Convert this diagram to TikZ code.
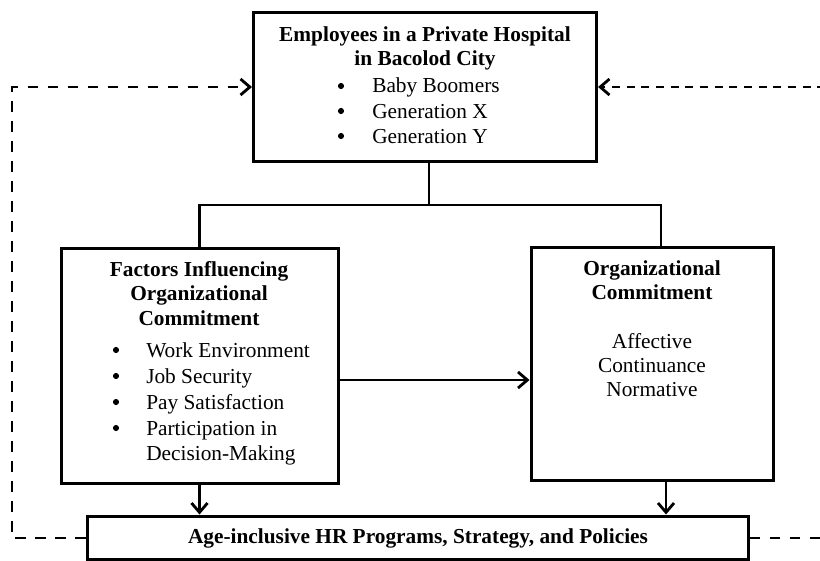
\documentclass[tikz,border=0pt]{standalone}
\usepackage{fontspec}
\setmainfont{Liberation Serif}
\usetikzlibrary{arrows.meta,calc}
\begin{document}
\begin{tikzpicture}[x=0.75pt,y=-0.75pt,
  box/.style={draw,line width=2.25pt,inner sep=0pt},
  txt/.style={inner sep=0pt,font=\fontsize{16}{19}\selectfont},
  head/.style={txt,anchor=base,font=\fontsize{16}{19}\selectfont\bfseries},
  line/.style={txt,anchor=base},
  dot/.style={circle,fill,inner sep=0pt,minimum size=4.6pt},
  item/.style={txt,anchor=base west},
  link/.style={line width=2.1pt},
  tip/.style={-{Straight Barb[length=7pt,width=12pt]}},
  loop/.style={line width=2.1pt,dash pattern=on 8pt off 7pt},
  loopfine/.style={line width=2.1pt,dash pattern=on 6pt off 5pt}]
\clip (0,0) rectangle (820,560);

% boxes
\node[box,minimum width=343*0.75pt,minimum height=148*0.75pt] (emp) at (425,87) {};
\node[box,minimum width=277*0.75pt,minimum height=235*0.75pt] (fac) at (199.5,365.5) {};
\node[box,minimum width=242*0.75pt,minimum height=233*0.75pt] (org) at (652,363.5) {};
\node[box,minimum width=661*0.75pt,minimum height=43*0.75pt] (hr) at (417.5,537.5) {};

% employees box text
\node[head] (e1) at (425,42) {Employees in a Private Hospital};
\node[head] (e2) at (425,65) {in Bacolod City};
\node[dot] (ed1) at (341,86) {};
\node[item] (ei1) at (372,93) {Baby Boomers};
\node[dot] (ed2) at (341,111) {};
\node[item] (ei2) at (372,118) {Generation X};
\node[dot] (ed3) at (341,136) {};
\node[item] (ei3) at (372,143) {Generation Y};

% factors box text
\node[head] (f1) at (199,276) {Factors Influencing};
\node[head] (f2) at (199,300) {Organizational};
\node[head] (f3) at (199,325) {Commitment};
\node[dot] (fd1) at (116,350) {};
\node[item] (fi1) at (146,357) {Work Environment};
\node[dot] (fd2) at (116,376) {};
\node[item] (fi2) at (146,383) {Job Security};
\node[dot] (fd3) at (116,402) {};
\node[item] (fi3) at (146,409) {Pay Satisfaction};
\node[dot] (fd4) at (116,428) {};
\node[item] (fi4) at (146,435) {Participation in};
\node[item] (fi5) at (146,460) {Decision-Making};

% commitment box text
\node[head] (o1) at (652,275) {Organizational};
\node[head] (o2) at (652,299) {Commitment};
\node[line] (o3) at (652,348) {Affective};
\node[line] (o4) at (652,372) {Continuance};
\node[line] (o5) at (652,396) {Normative};

% outcome box text
\node[head] (h1) at (418,543) {Age-inclusive HR Programs, Strategy, and Policies};

% tree from the employees box
\coordinate (jn) at (429,205);
\coordinate (jl) at (199.5,205);
\coordinate (jr) at (661,205);
\draw[link] (emp.south -| jn) -- (jn);
\draw[link] (fac.north) -- (jl) -- (jr) -- (jr |- org.north);

% factors to commitment
\coordinate (lvl) at (0,380);
\draw[link,tip] (fac.east |- lvl) -- (org.west |- lvl);

% both boxes down to the outcome box
\coordinate (od) at (666,480);
\draw[link,tip] (fac.south) -- (fac.south |- hr.north);
\draw[link,tip] (od |- org.south) -- (od |- hr.north);

% feedback loops
\coordinate (ll) at (12,538);
\coordinate (rr) at (840,538);
\draw[loop,tip] (hr.west |- ll) -- (ll) -- (ll |- emp.west) -- (emp.west);
\draw[loop] (hr.east |- rr) -- (rr);
\draw[loopfine,tip] (rr |- emp.east) -- (emp.east);
\end{tikzpicture}
\end{document}
